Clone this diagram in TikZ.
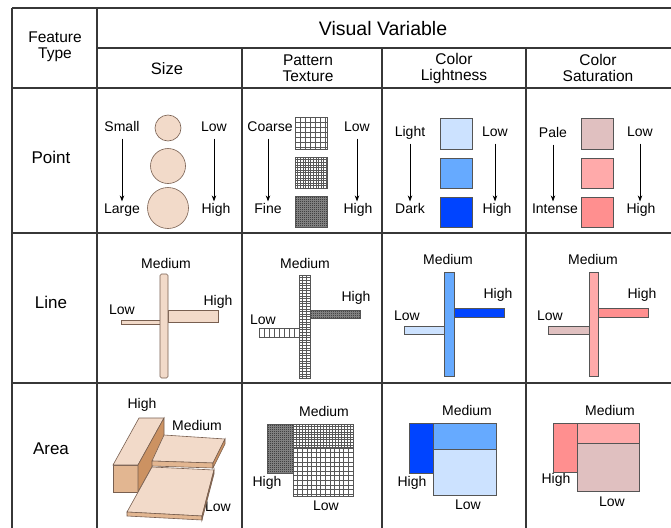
\documentclass[tikz,border=0pt]{standalone}
\usepackage{fontspec}
\setmainfont{Liberation Sans}
\usetikzlibrary{arrows.meta}
\definecolor{peach}{RGB}{242,218,201}
\definecolor{peachfront}{RGB}{226,182,145}
\definecolor{peachside}{RGB}{204,146,98}
\definecolor{peachedge}{RGB}{120,95,80}
\definecolor{lbA}{RGB}{204,226,255}
\definecolor{lbB}{RGB}{102,170,255}
\definecolor{lbC}{RGB}{0,68,255}
\definecolor{rsA}{RGB}{224,192,192}
\definecolor{rsB}{RGB}{255,170,170}
\definecolor{rsC}{RGB}{255,143,143}
\definecolor{tabline}{RGB}{55,55,55}
\definecolor{shedge}{RGB}{85,85,85}
\tikzset{
  tab/.style={draw=tabline, line width=1.6pt},
  lab/.style={font=\fontsize{14}{16}\selectfont, inner sep=1pt, text height=10pt, text depth=2.8pt},
  head/.style={font=\fontsize{15.5}{16}\selectfont, align=center, inner sep=1pt},
  rowlab/.style={font=\fontsize{17}{19}\selectfont, inner sep=1pt},
  arr/.style={-{Stealth[length=6pt,width=4.5pt]}, line width=0.7pt, shorten <=3pt, shorten >=1pt},
  shapeedge/.style={draw=shedge, line width=0.7pt},
  cbox/.style={shapeedge, fill=#1},
  pbox/.style={draw=peachedge, line width=0.6pt, fill=#1},
}
\newcommand\texbox[8]{%
  \begin{scope}
    \clip (#1,#2) rectangle (#3,#4);
    \fill[#7] (#1,#2) rectangle (#3,#4);
    \pgfmathtruncatemacro\tbnx{(#3-#1)/#5}
    \pgfmathtruncatemacro\tbny{(#4-#2)/#6}
    \foreach \i in {0,...,\tbnx} \draw[#8] ({#1+\i*#5},#2) -- ({#1+\i*#5},#4);
    \foreach \i in {0,...,\tbny} \draw[#8] (#1,{#2+\i*#6}) -- (#3,{#2+\i*#6});
  \end{scope}
  \draw[shapeedge] (#1,#2) rectangle (#3,#4);}
\begin{document}
\begin{tikzpicture}[x=1pt,y=-1pt]
\useasboundingbox (0,0) rectangle (671,527);
\clip (0,0) rectangle (671,527);
\fill[white] (0,0) rectangle (671,527);
% ---------------- table grid
\draw[tab] (12,8) -- (680,8);
\draw[tab] (97,48) -- (680,48);
\draw[tab] (12,88) -- (680,88);
\draw[tab] (12,233) -- (680,233);
\draw[tab] (12,383) -- (680,383);
\draw[tab] (12,8) -- (12,540);
\draw[tab] (97,8) -- (97,540);
\draw[tab] (242,48) -- (242,540);
\draw[tab] (382,48) -- (382,540);
\draw[tab] (526,48) -- (526,540);
% ---------------- headers
\node[head] (ft) at (55,47) {Feature\\Type};
\node[font=\fontsize{19.5}{21}\selectfont, inner sep=1pt] (vv) at (383,29) {Visual Variable};
\node[head, font=\fontsize{16.5}{17}\selectfont] (hsize) at (167,69) {Size};
\node[head] (hpat) at (308,68) {Pattern\\Texture};
\node[head] (hcl) at (454,68) {Color\\Lightness};
\node[head] (hcs) at (598,68) {Color\\Saturation};
\node[rowlab] (rpoint) at (51,157) {Point};
\node[rowlab] (rline) at (51,302) {Line};
\node[rowlab] (rarea) at (51,449) {Area};
% ================= POINT row
% size
\node[lab] (psA) at (122,128) {Small};
\node[lab] (psB) at (122,210) {Large};
\draw[arr] (psA) -- (psB);
\node[lab] (psC) at (214,128) {Low};
\node[lab] (psD) at (216,210) {High};
\draw[arr] (psC.south) -- (psC.south |- psD.north);
\filldraw[pbox=peach] (168,128) circle[radius=13pt];
\filldraw[pbox=peach] (168,166) circle[radius=17.5pt];
\filldraw[pbox=peach] (168,208) circle[radius=20.5pt];
% pattern
\node[lab] (ppA) at (270,128) {Coarse};
\node[lab] (ppB) at (268,210) {Fine};
\draw[arr] (ppA.south -| ppB.north) -- (ppB.north);
\node[lab] (ppC) at (357,128) {Low};
\node[lab] (ppD) at (358,210) {High};
\draw[arr] (ppC.south) -- (ppC.south |- ppD.north);
\texbox{295}{117}{327}{149}{5}{5}{white}{{black!65, line width=0.7pt}}
\texbox{295}{157}{327}{188}{2.6}{2.6}{white}{{black!65, line width=0.5pt}}
\texbox{295}{196}{327}{227}{2}{2}{black!75}{{black!50, line width=0.4pt}}
% color lightness
\node[lab] (plA) at (410,133) {Light};
\node[lab] (plB) at (410,210) {Dark};
\draw[arr] (plA) -- (plB);
\node[lab] (plC) at (495,133) {Low};
\node[lab] (plD) at (497,210) {High};
\draw[arr] (plC.south) -- (plC.south |- plD.north);
\filldraw[cbox=lbA] (440,118) rectangle (472,149);
\filldraw[cbox=lbB] (440,158) rectangle (472,188);
\filldraw[cbox=lbC] (440,197) rectangle (472,227);
% color saturation
\node[lab] (pcA) at (553,134) {Pale};
\node[lab] (pcB) at (555,210) {Intense};
\draw[arr] (pcA.south) -- (pcA.south |- pcB.north);
\node[lab] (pcC) at (640,133) {Low};
\node[lab] (pcD) at (641,210) {High};
\draw[arr] (pcC.south) -- (pcC.south |- pcD.north);
\filldraw[cbox=rsA] (581,118) rectangle (613,149);
\filldraw[cbox=rsB] (581,158) rectangle (613,188);
\filldraw[cbox=rsC] (581,197) rectangle (613,227);
% ================= LINE row
% size
\node[lab] (lsA) at (166,265) {Medium};
\node[lab] (lsB) at (122,311) {Low};
\node[lab] (lsC) at (218,302) {High};
\filldraw[pbox=peach] (121,320) rectangle (160,324);
\filldraw[pbox=peach] (168,310) rectangle (218,322);
\filldraw[pbox=peach, rounded corners=1.5pt] (160,274) rectangle (168,378);
% pattern
\node[lab] (lpA) at (305,265) {Medium};
\node[lab] (lpB) at (263,321) {Low};
\node[lab] (lpC) at (356,298) {High};
\texbox{259}{328}{299}{337}{5}{20}{white}{{black!65, line width=0.6pt}}
\texbox{310}{310}{360}{318}{2}{2}{black!72}{{black!50, line width=0.4pt}}
\texbox{299}{275}{310}{378}{3.7}{2.6}{white}{{black!65, line width=0.5pt}}
% color lightness
\node[lab] (llA) at (448,261) {Medium};
\node[lab] (llB) at (407,317) {Low};
\node[lab] (llC) at (498,295) {High};
\filldraw[cbox=lbA] (404,326) rectangle (444,334);
\filldraw[cbox=lbC] (454,308) rectangle (504,317);
\filldraw[cbox=lbB] (444,272) rectangle (454,376);
% color saturation
\node[lab] (lcA) at (593,261) {Medium};
\node[lab] (lcB) at (550,317) {Low};
\node[lab] (lcC) at (642,295) {High};
\filldraw[cbox=rsA] (548,326) rectangle (589,334);
\filldraw[cbox=rsC] (598,308) rectangle (648,317);
\filldraw[cbox=rsB] (589,272) rectangle (598,376);
% ================= AREA row
% size (3D blocks)
\node[lab] (asA) at (142,405) {High};
\node[lab] (asB) at (197,427) {Medium};
\node[lab] (asC) at (218,508) {Low};
% tall box
\filldraw[pbox=peachfront] (113,465) -- (138,465) -- (138,492) -- (113,492) -- cycle;
\filldraw[pbox=peach] (113,465) -- (138,465) -- (164,418) -- (139,418) -- cycle;
\filldraw[pbox=peachside] (138,465) -- (164,418) -- (164,445) -- (138,492) -- cycle;
% medium slab
\filldraw[pbox=peach] (164,435) -- (225,439) -- (213,463) -- (152,461) -- cycle;
\filldraw[pbox=peachfront] (152,461) -- (213,463) -- (213,468) -- (152,466) -- cycle;
\filldraw[pbox=peachside] (213,463) -- (225,439) -- (225,444) -- (213,468) -- cycle;
% low slab
\filldraw[pbox=peach] (152,467) -- (214,470) -- (202,516) -- (127,512) -- cycle;
\filldraw[pbox=peachfront] (127,512) -- (202,516) -- (202,520) -- (127,516) -- cycle;
\filldraw[pbox=peachside] (202,516) -- (214,470) -- (214,474) -- (202,520) -- cycle;
% pattern
\node[lab] (apA) at (324,413) {Medium};
\node[lab] (apB) at (267,483) {High};
\node[lab] (apC) at (326,507) {Low};
\texbox{267}{424}{293}{473}{2}{2}{black!75}{{black!50, line width=0.4pt}}
\texbox{293}{424}{353}{448}{3}{2.6}{white}{{black!65, line width=0.5pt}}
\texbox{293}{448}{353}{496}{4.6}{4.6}{white}{{black!65, line width=0.6pt}}
% color lightness
\node[lab] (alA) at (467,412) {Medium};
\node[lab] (alB) at (412,483) {High};
\node[lab] (alC) at (468,506) {Low};
\filldraw[cbox=lbC] (409,423) rectangle (433,473);
\filldraw[cbox=lbB] (433,423) rectangle (496,449);
\filldraw[cbox=lbA] (433,449) rectangle (496,495);
% color saturation
\node[lab] (acA) at (610,412) {Medium};
\node[lab] (acB) at (556,480) {High};
\node[lab] (acC) at (612,503) {Low};
\filldraw[cbox=rsC] (553,423) rectangle (577,472);
\filldraw[cbox=rsB] (577,423) rectangle (639,443);
\filldraw[cbox=rsA] (577,443) rectangle (639,491);
\end{tikzpicture}
\end{document}
